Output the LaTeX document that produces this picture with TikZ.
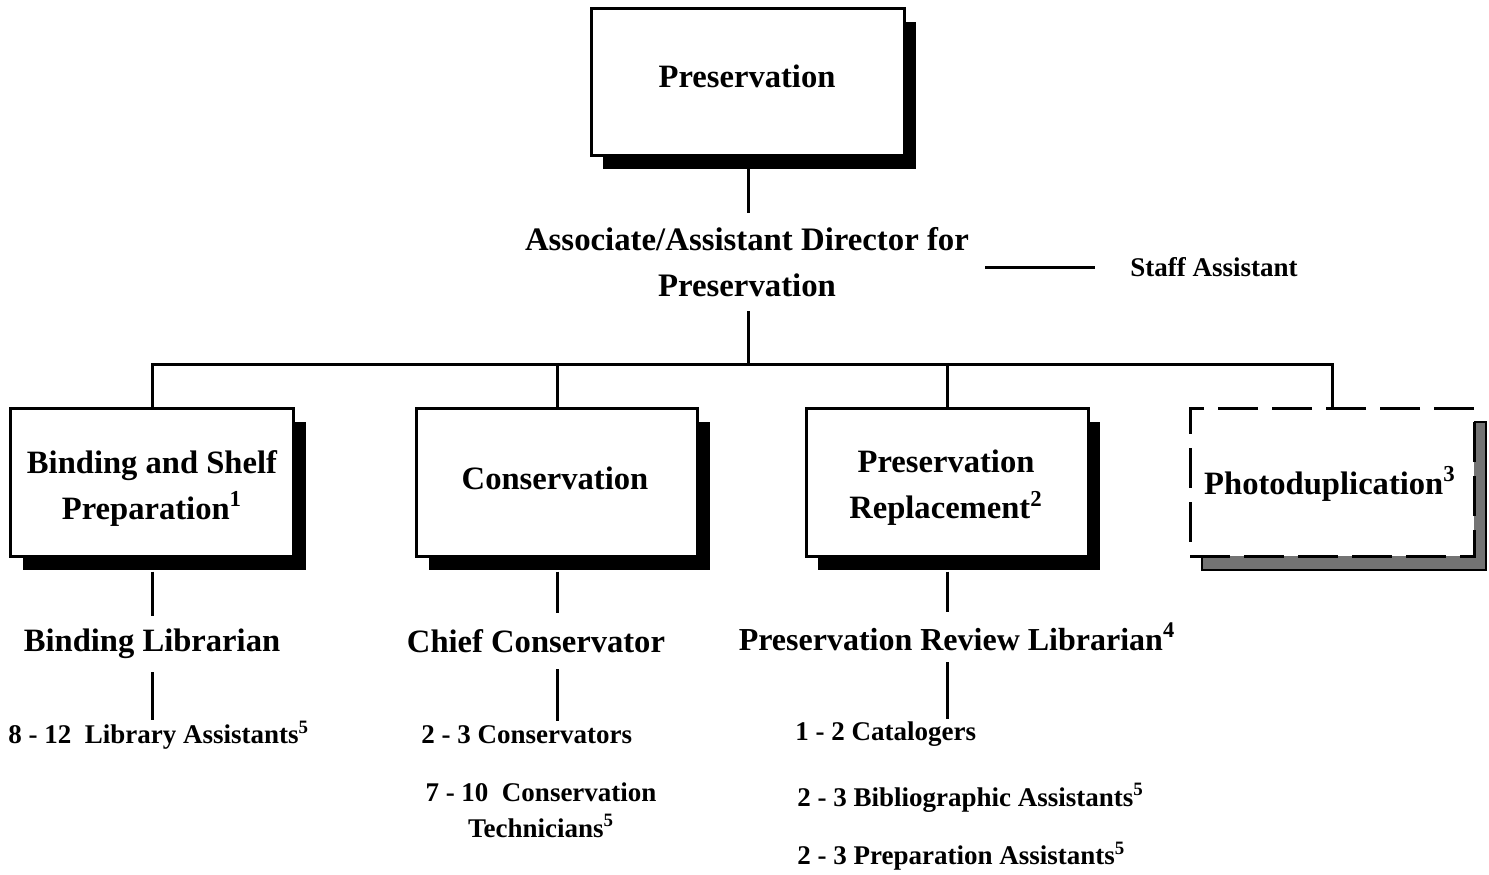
\documentclass[tikz,border=0pt]{standalone}
\usepackage{fontspec}
\setmainfont{Liberation Serif}
\usetikzlibrary{shadows}
\begin{document}
\begin{tikzpicture}[x=0.5pt,y=-0.5pt,
  boxbase/.style={draw, line width=1.5pt, fill=white, align=center, inner sep=0pt},
  solidbox/.style={boxbase, drop shadow={fill=black, opacity=1, shadow xshift=6pt, shadow yshift=-7pt}},
  dashbox/.style={boxbase, dash pattern=on 20pt off 7pt, drop shadow={fill=black!55, draw=black, solid, line width=1pt, opacity=1, shadow xshift=6pt, shadow yshift=-7pt}},
  bigfont/.style={font=\fontsize{16.3}{23}\selectfont\bfseries},
  midfont/.style={font=\fontsize{16.4}{23}\selectfont\bfseries},
  smallfont/.style={font=\fontsize{13.5}{18}\selectfont\bfseries},
  boxtext/.style={bigfont, align=center, inner sep=0pt},
  conn/.style={line width=1.5pt}]
\useasboundingbox (0,0) rectangle (1489,874);

% top
\node[solidbox, minimum width=156.5pt, minimum height=73.5pt] (top) at (747.5,81.5) {};
\node[boxtext] (topt) at (747,76) {Preservation};
\node[midfont, align=center, inner sep=0pt, minimum height=49pt] (ad) at (747,262) {Associate/Assistant Director for\\Preservation};
\node[smallfont, anchor=west, inner sep=0pt] (sa) at (1130,267) {Staff Assistant};
\coordinate (sl1) at (985,267);
\coordinate (sl2) at (1095,267);
\draw[conn] (sl1) -- (sl2);

\coordinate (br) at (748,364);
\draw[conn] (br |- top.south) -- (br |- ad.north);
\draw[conn] (br |- ad.south) -- (br);

% boxes
\node[solidbox, minimum width=141.5pt, minimum height=74pt] (b1) at (152,482) {};
\node[solidbox, minimum width=140.5pt, minimum height=74pt] (b2) at (557,482) {};
\node[solidbox, minimum width=141pt, minimum height=74pt] (b3) at (947,482) {};
\node[dashbox, minimum width=142pt, minimum height=74pt] (b4) at (1332,482) {};
\node[boxtext] (b1t) at (152,488) {Binding and Shelf\\Preparation\textsuperscript{1}};
\node[boxtext] (b2t) at (555,478) {Conservation};
\node[boxtext] (b3t) at (946,488) {Preservation\\Replacement\textsuperscript{2}};
\node[boxtext] (b4t) at (1330,484) {Photoduplication\textsuperscript{3}};

\draw[conn] (b1.north) |- (br);
\draw[conn] (b2.north) |- (br);
\draw[conn] (b3.north) |- (br);
\draw[conn] (b4.north) |- (br);

% second level
\node[bigfont, inner sep=0pt, minimum height=28pt] (bl) at (152,644) {Binding Librarian};
\node[bigfont, inner sep=0pt, minimum height=28pt] (cc) at (536,641) {Chief Conservator};
\node[font=\fontsize{16}{23}\selectfont\bfseries, inner sep=0pt, minimum height=25pt] (pr) at (957,637) {Preservation Review Librarian\textsuperscript{4}};

\draw[conn] ([yshift=-7pt]b1.south) -- (b1.south |- bl.north);
\draw[conn] ([yshift=-7pt]b2.south) -- (b2.south |- cc.north);
\draw[conn] ([yshift=-7pt]b3.south) -- (b3.south |- pr.north);

% third level
\node[smallfont, anchor=west, inner sep=0pt, minimum height=12pt] (la) at (8,735) {8 - 12\ \ Library Assistants\textsuperscript{5}};
\draw[conn] (b1.south |- bl.south) -- (b1.south |- la.north);

\node[smallfont, anchor=west, inner sep=0pt, minimum height=14pt] (c1) at (421,735) {2 - 3 Conservators};
\node[smallfont, align=center, inner sep=0pt] (c2) at (541,810) {7 - 10\ \ Conservation\\Technicians\textsuperscript{5}};
\draw[conn] (b2.south |- cc.south) -- (b2.south |- c1.north);

\node[smallfont, anchor=west, inner sep=0pt, minimum height=15pt] (p1) at (795,734) {1 - 2 Catalogers};
\node[smallfont, anchor=west, inner sep=0pt] (p2) at (797,798) {2 - 3 Bibliographic Assistants\textsuperscript{5}};
\node[smallfont, anchor=west, inner sep=0pt] (p3) at (797,856) {2 - 3 Preparation Assistants\textsuperscript{5}};
\draw[conn] (b3.south |- pr.south) -- (b3.south |- p1.north);
\end{tikzpicture}
\end{document}
